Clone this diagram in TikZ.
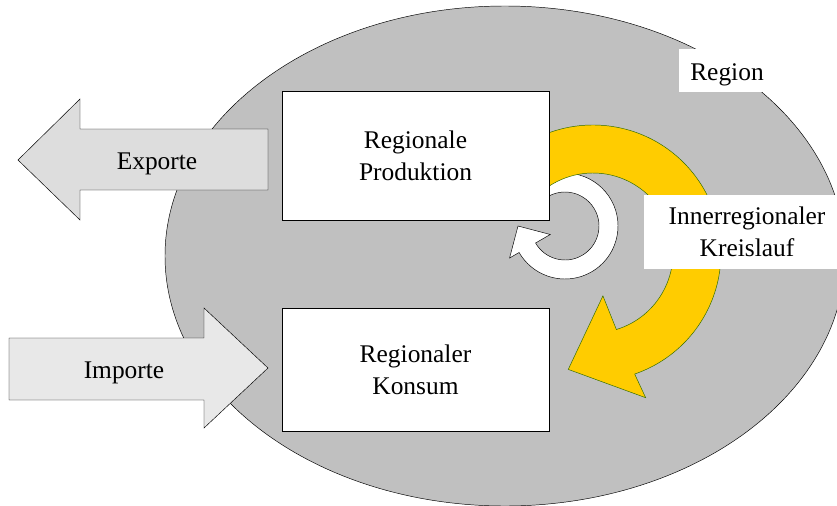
\documentclass[tikz,border=0pt]{standalone}
\usepackage{fontspec}
\setmainfont{Liberation Serif}
\definecolor{regiongray}{HTML}{C0C0C0}
\definecolor{exportgray}{HTML}{DDDDDD}
\definecolor{importgray}{HTML}{E8E8E8}
\definecolor{kreisgelb}{HTML}{FFCC00}
\definecolor{kreisrand}{HTML}{2E6B00}
\begin{document}
\begin{tikzpicture}[x=0.03cm,y=-0.03cm,
    every node/.style={font=\fontsize{21.7}{27.5}\selectfont,align=center},
    block/.style={draw,fill=white,minimum width=8.01cm},
    tag/.style={fill=white,inner sep=0pt}]
        \useasboundingbox (0,0) rectangle (837,506);
        \clip (0,0) rectangle (837,506);
        %% region
        \draw[fill=regiongray] (505,256) ellipse [x radius=340, y radius=250];
        %% block arrows
        \draw[fill=exportgray] (268,129) -- (80,129) -- (80,99) -- (18,160)
            -- (80,220) -- (80,190) -- (268,190) -- cycle;
        \draw[fill=importgray] (9,338) -- (204,338) -- (204,308) -- (268,368)
            -- (204,428) -- (204,400) -- (9,400) -- cycle;
        %% circular arrows
        \begin{scope}[shift={(565,226)}]
            \draw[fill=white] (-130:53) arc[start angle=-130, end angle=150, radius=53]
                -- (150:64) -- (180:47) -- (150:17) -- (150:34)
                arc[start angle=150, end angle=-130, radius=34] -- cycle;
        \end{scope}
        \begin{scope}[shift={(593,253)}]
            \draw[fill=kreisgelb,draw=kreisrand] (-130:128) arc[start angle=-130, end angle=71, radius=128]
                -- (70:154) -- (102:119) -- (77:44) -- (73:80)
                arc[start angle=73, end angle=-130, radius=80] -- cycle;
        \end{scope}
        %% boxes
        \node[block,minimum height=3.87cm] (P) at (415.5,155.5) {Regionale\\Produktion};
        \node[block,minimum height=3.69cm] (K) at (415.5,369.5) {Regionaler\\Konsum};
        %% labels
        \node (E) at (157,164) {Exporte};
        \node (I) at (124,373) {Importe};
        \node[tag,minimum width=2.88cm,minimum height=1.29cm,text height=21pt] (R) at (727,70.5) {Region};
        \node[tag,minimum width=6.18cm,minimum height=2.19cm] (L) at (747,232) {Innerregionaler\\Kreislauf};
    \end{tikzpicture}
\end{document}
